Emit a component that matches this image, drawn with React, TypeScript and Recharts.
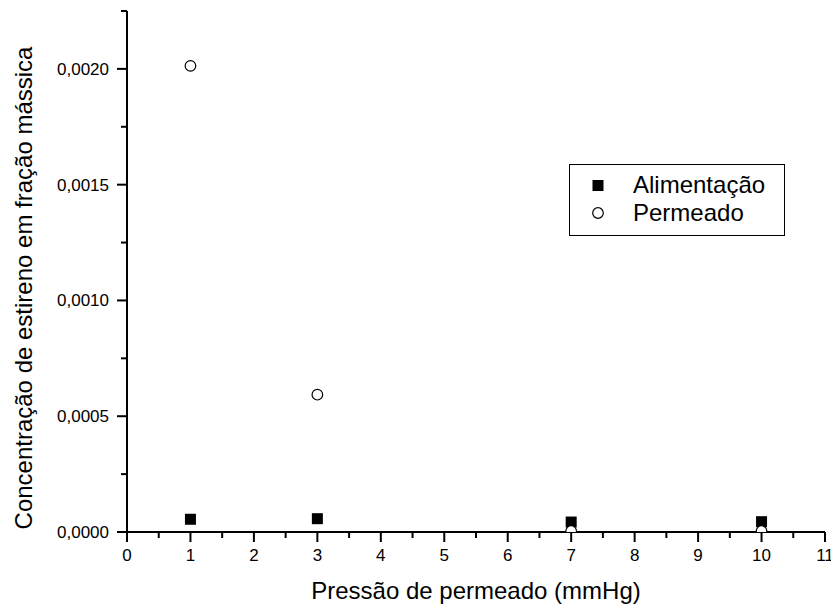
import React from 'react';
import { ScatterChart, Scatter, XAxis, YAxis, Legend } from 'recharts';

const pressures = [1, 3, 7, 10];
const alimentacao = [0.000055, 0.0000575, 0.000043, 0.0000445];
const permeado = [0.002013, 0.000593, 0.000004, 0.000004];

const xTicks = [0, 0.5, 1, 1.5, 2, 2.5, 3, 3.5, 4, 4.5, 5, 5.5, 6, 6.5, 7, 7.5, 8, 8.5, 9, 9.5, 10, 10.5, 11];
const yTicks = [0, 0.00025, 0.0005, 0.00075, 0.001, 0.00125, 0.0015, 0.00175, 0.002, 0.00225];
const yMajorTicks = [0, 0.0005, 0.001, 0.0015, 0.002];

const alimData = pressures.map((p, i) => ({ x: p, y: alimentacao[i] }));
const permData = pressures.map((p, i) => ({ x: p, y: permeado[i] }));

const FONT = '"Liberation Sans", Arial, sans-serif';

const XTick = (props: any) => {
  const { x, y, payload } = props;
  const v = payload.value;
  const major = Math.abs(v - Math.round(v)) < 1e-9;
  return (
    <g>
      <line x1={x} y1={y} x2={x} y2={y + (major ? 10 : 6)} stroke="#000" strokeWidth={2} />
      {major && (
        <text x={x} y={y + 29} textAnchor="middle" fontSize={17} fontFamily={FONT} fill="#000">
          {String(v)}
        </text>
      )}
    </g>
  );
};

const YTick = (props: any) => {
  const { x, y, payload } = props;
  const v = payload.value;
  const major = yMajorTicks.some((m) => Math.abs(m - v) < 1e-9);
  return (
    <g>
      <line x1={x} y1={y} x2={x - (major ? 10 : 6)} y2={y} stroke="#000" strokeWidth={2} />
      {major && (
        <text x={x - 18} y={y + 6} textAnchor="end" fontSize={17} fontFamily={FONT} fill="#000">
          {v.toFixed(4).replace('.', ',')}
        </text>
      )}
    </g>
  );
};

const SquareShape = (props: any) => {
  const { cx, cy } = props;
  return <rect x={cx - 5.5} y={cy - 5.5} width={11} height={11} fill="#000" />;
};

const CircleShape = (props: any) => {
  const { cx, cy } = props;
  return <circle cx={cx} cy={cy} r={5.3} fill="#fff" stroke="#000" strokeWidth={1.2} />;
};

const LegendBox = () => (
  <div
    style={{
      width: 214,
      height: 70,
      border: '1px solid #000',
      background: '#fff',
      fontFamily: FONT,
      fontSize: 24,
      color: '#000',
      position: 'relative',
    }}
  >
    <svg width={20} height={70} style={{ position: 'absolute', left: 18, top: 0 }}>
      <rect x={4.5} y={15} width={11} height={11} fill="#000" />
      <circle cx={10} cy={48} r={5.3} fill="#fff" stroke="#000" strokeWidth={1.2} />
    </svg>
    <div style={{ position: 'absolute', left: 63, top: 6, lineHeight: '28px', whiteSpace: 'nowrap' }}>Alimentação</div>
    <div style={{ position: 'absolute', left: 63, top: 34, lineHeight: '28px', whiteSpace: 'nowrap' }}>Permeado</div>
  </div>
);

export default function App() {
  return (
    <ScatterChart width={831} height={598} margin={{ top: 3, right: 14, left: 0, bottom: 0 }} style={{ fontFamily: FONT }}>
      <XAxis
        type="number"
        dataKey="x"
        domain={[0, 11]}
        ticks={xTicks}
        interval={0}
        allowDataOverflow
        height={74}
        tickSize={0}
        tickMargin={0}
        tickLine={false}
        axisLine={{ stroke: '#000', strokeWidth: 2 }}
        tick={<XTick />}
        label={{
          value: 'Pressão de permeado (mmHg)',
          position: 'insideBottom',
          offset: 7,
          fontSize: 24,
          fontFamily: FONT,
          fill: '#000',
        }}
      />
      <YAxis
        type="number"
        dataKey="y"
        domain={[0, 0.00225]}
        ticks={yTicks}
        interval={0}
        allowDataOverflow
        width={119}
        tickSize={0}
        tickMargin={0}
        tickLine={false}
        axisLine={{ stroke: '#000', strokeWidth: 2 }}
        tick={<YTick />}
        label={{
          content: () => (
            <text
              x={24}
              y={280}
              transform="rotate(-90 24 280)"
              textAnchor="middle"
              fontSize={24}
              fontFamily={FONT}
              fill="#000"
            >
              Concentração de estireno em fração mássica
            </text>
          ),
        }}
      />
      <Legend
        layout="vertical"
        align="center"
        verticalAlign="middle"
        content={() => <LegendBox />}
        wrapperStyle={{ position: 'absolute', left: 561, top: 156, width: 216, height: 72 }}
      />
      <Scatter name="Alimentação" data={alimData} shape={<SquareShape />} isAnimationActive={false} />
      <Scatter name="Permeado" data={permData} shape={<CircleShape />} isAnimationActive={false} />
    </ScatterChart>
  );
}
